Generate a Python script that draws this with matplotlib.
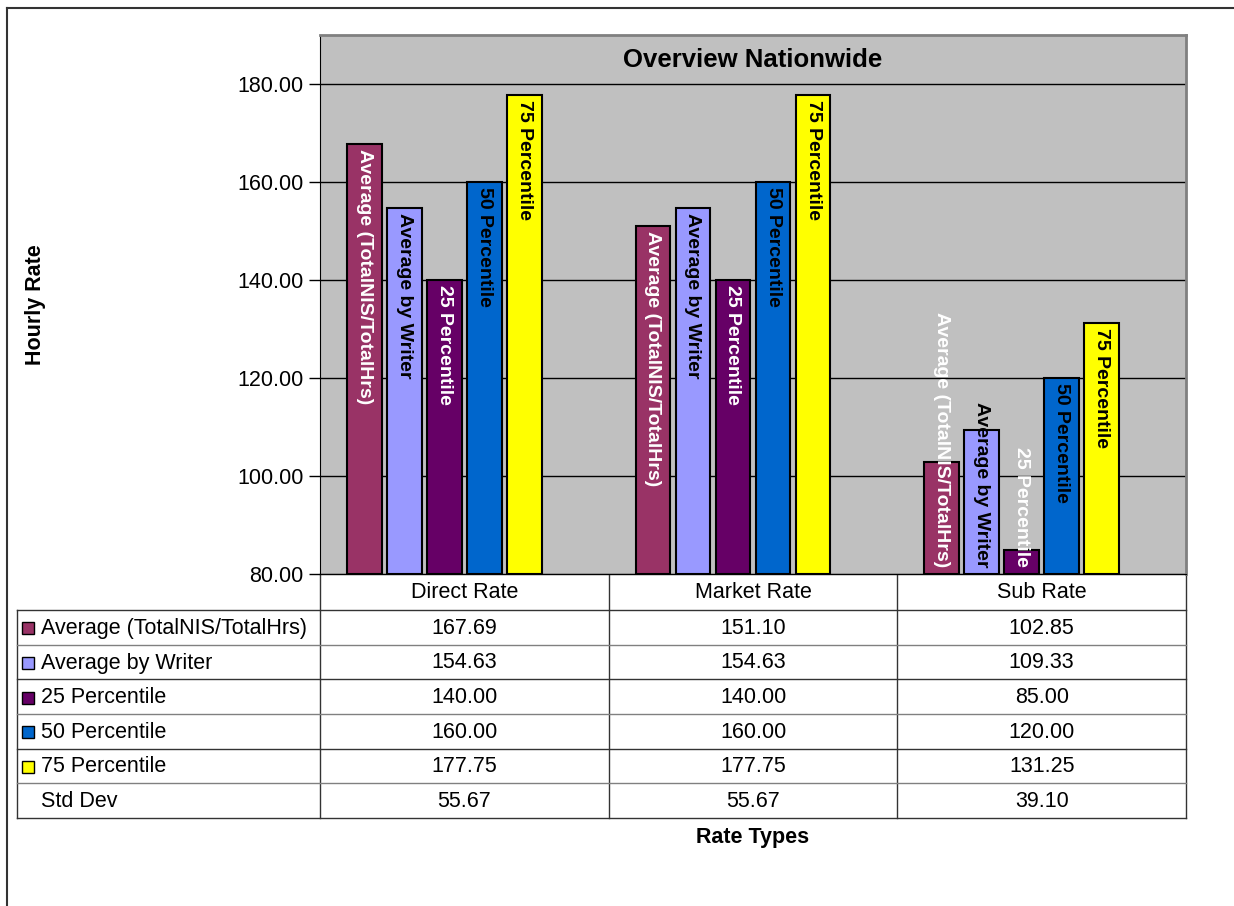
import numpy as np
import matplotlib.pyplot as plt
from matplotlib.patches import Rectangle
from matplotlib.transforms import offset_copy

plt.rcParams['font.family'] = ['Liberation Sans', 'DejaVu Sans']

# data
categories = ['Direct Rate', 'Market Rate', 'Sub Rate']
series_names = ['Average (TotalNIS/TotalHrs)', 'Average by Writer',
                '25 Percentile', '50 Percentile', '75 Percentile']
avg_total = [167.69, 151.10, 102.85]
avg_writer = [154.63, 154.63, 109.33]
p25 = [140.00, 140.00, 85.00]
p50 = [160.00, 160.00, 120.00]
p75 = [177.75, 177.75, 131.25]
std_dev = [55.67, 55.67, 39.10]
yticks = [80, 100, 120, 140, 160, 180]

series = [avg_total, avg_writer, p25, p50, p75]
colors = ['#993366', '#9999FF', '#660066', '#0066CC', '#FFFF00']
label_colors = ['white', 'black', 'white', 'black', 'black']

W, H = 1234, 906
fig = plt.figure(figsize=(W / 100, H / 100), dpi=100)

# pixel overlay for frame + data table
ov = fig.add_axes([0, 0, 1, 1], zorder=0)
ov.set_xlim(0, W)
ov.set_ylim(H, 0)
ov.axis('off')

# plot area in pixels
px0, px1, py0, py1 = 320, 1186, 35, 574
ax = fig.add_axes([px0 / W, (H - py1) / H, (px1 - px0) / W, (py1 - py0) / H], zorder=2)
ax.set_facecolor('#C0C0C0')
ax.set_xlim(-0.5, len(categories) - 0.5)
ax.set_ylim(80, 190)
ax.set_yticks(yticks)
ax.set_yticklabels([f'{v:.2f}' for v in yticks], fontsize=15.5)
ax.yaxis.grid(True, color='black', linewidth=1)
ax.set_axisbelow(True)
ax.set_xticks([])
ax.tick_params(axis='y', length=8, width=1, pad=4)
for s in ['top', 'right']:
    ax.spines[s].set_color('#808080')
    ax.spines[s].set_linewidth(2)
ax.spines['left'].set_color('black')
ax.spines['bottom'].set_color('black')
ax.set_title('Overview Nationwide', fontsize=18.5, fontweight='bold', y=0.925)

# six series slots per category (Std Dev sits below the axis minimum)
x = np.arange(len(categories))
step = 0.1386
width = 0.121
texts = []
for i, (vals, c, tc, name) in enumerate(zip(series, colors, label_colors, series_names)):
    xs = x + (i - 2.5) * step
    ax.bar(xs, np.array(vals) - 80, width=width, bottom=80, color=c,
           edgecolor='black', linewidth=1.5, zorder=3)
    for xi, v in zip(xs, vals):
        t = ax.text(xi, v, name, rotation=-90, ha='center', va='top',
                    fontsize=14, fontweight='bold', color=tc, zorder=4,
                    transform=offset_copy(ax.transData, fig=fig, y=-5, units='dots'))
        texts.append((t, xi))

# labels that do not fit inside the bar sit on the axis
fig.canvas.draw()
r = fig.canvas.get_renderer()
bottom_px = ax.transData.transform((0, 80))[1]
for t, xi in texts:
    bb = t.get_window_extent(r)
    if bb.y0 < bottom_px + 6:
        t.set_position((xi, 80))
        t.set_va('bottom')
        t.set_transform(offset_copy(ax.transData, fig=fig, y=7, units='dots'))

ax.set_ylabel('Hourly Rate', fontsize=15.5, fontweight='bold', labelpad=0)
ax.yaxis.set_label_coords(-0.316, 0.5)

# outer frame
ov.plot([7, W], [8, 8], color='#333333', lw=1.5)
ov.plot([7, 7], [8, H], color='#333333', lw=1.5)

# data table
lc = '#333333'
tl = 17
fs = 15.5
col_edges = np.linspace(px0, px1, len(categories) + 1)
col_centers = (col_edges[:-1] + col_edges[1:]) / 2
row_edges = np.linspace(610, 818, 7)
ov.plot([px0, px1], [py1, py1], color=lc, lw=1)
for xe in col_edges:
    ov.plot([xe, xe], [py1, row_edges[-1]], color=lc, lw=1)
ov.plot([tl, tl], [row_edges[0], row_edges[-1]], color=lc, lw=1)
for k, ye in enumerate(row_edges):
    ov.plot([tl, px1], [ye, ye], color=lc if k % 2 == 0 else '#808080', lw=1)
for cx, cat in zip(col_centers, categories):
    ov.text(cx, (py1 + row_edges[0]) / 2 + 1, cat, ha='center', va='center', fontsize=fs)

row_names = series_names + ['Std Dev']
row_vals = series + [std_dev]
row_colors = colors + [None]
for k, (name, vals, c) in enumerate(zip(row_names, row_vals, row_colors)):
    yc = (row_edges[k] + row_edges[k + 1]) / 2 + 1
    if c is not None:
        ov.add_patch(Rectangle((22, yc - 6), 12, 12, facecolor=c, edgecolor='black', lw=1))
    ov.text(41, yc, name, ha='left', va='center', fontsize=fs)
    for cx, v in zip(col_centers, vals):
        ov.text(cx, yc, f'{v:.2f}', ha='center', va='center', fontsize=fs)

ov.text((px0 + px1) / 2, 838, 'Rate Types', ha='center', va='center', fontsize=fs, fontweight='bold')

fig.savefig('out.png', dpi=100)
